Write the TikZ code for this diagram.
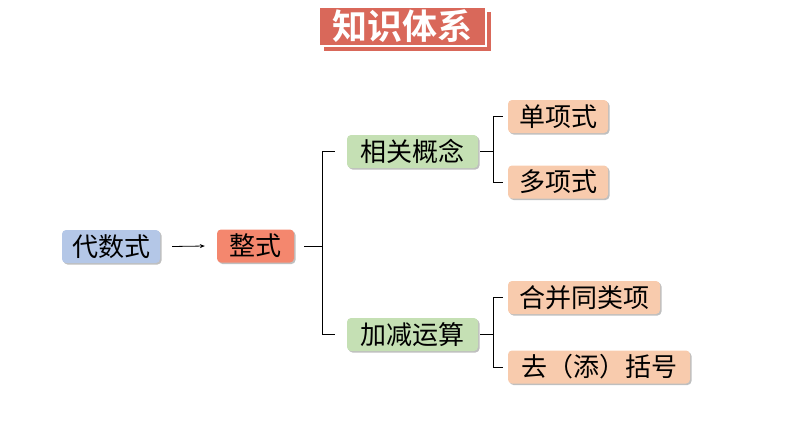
\documentclass[tikz,border=0pt]{standalone}
\usepackage{fontspec}
\setmainfont{Noto Sans CJK SC}
\newfontfamily\cjkb{Noto Sans CJK SC Bold}
\usetikzlibrary{shadows,arrows.meta}
\definecolor{titlered}{HTML}{D9685A}
\definecolor{blueb}{HTML}{B4C7E7}
\definecolor{redb}{HTML}{F4876E}
\definecolor{greenb}{HTML}{C5E0B4}
\definecolor{peachb}{HTML}{F8CBAD}
\tikzset{
  box/.style={rounded corners=4pt, minimum height=33pt, inner xsep=0pt, inner sep=0pt,
    font=\fontsize{26}{28}\selectfont, text=black,
    drop shadow={shadow xshift=1.5pt, shadow yshift=-1.5pt, opacity=0.25, fill=black}},
  brk/.style={line width=0.9pt, black},
}
\begin{document}
\begin{tikzpicture}[x=1pt,y=-1pt]
\useasboundingbox (0,0) rectangle (794,447);
% title
\fill[titlered] (324,12) rectangle (491,51);
\node[fill=titlered, draw=white, line width=1.5pt, anchor=north west,
  minimum width=167pt, minimum height=39pt, inner sep=0pt, text=white,
  font=\cjkb\fontsize{35}{36}\selectfont] (title) at (318,6) {知识体系};
% nodes
\node[box, fill=blueb, minimum width=98pt] (ds) at (111,246.5) {代数式};
\node[box, fill=redb, minimum width=77pt] (zs) at (255.5,246) {整式};
\node[box, fill=greenb, minimum width=131pt] (xg) at (412.5,151.5) {相关概念};
\node[box, fill=greenb, minimum width=131pt] (jj) at (412.5,334.5) {加减运算};
\node[box, fill=peachb, minimum width=100pt] (dx) at (558,116.5) {单项式};
\node[box, fill=peachb, minimum width=100pt] (dd) at (558,182) {多项式};
\node[box, fill=peachb, minimum width=152pt] (hb) at (584,297.5) {合并同类项};
\node[box, fill=peachb, minimum width=182pt] (qt) at (599,367) {去（添）括号};
% arrow
\draw[line width=0.8pt, -{Stealth[length=5pt,width=4pt]}] ([xshift=12pt]ds.east) -- ([xshift=-12pt]zs.east -| zs.west);
% brackets
\coordinate (b1) at (322,246);
\draw[brk] ([xshift=10pt]zs.east) -- (b1);
\draw[brk] ([xshift=-12pt]xg.west) -- (xg.west -| b1) -- (jj.west -| b1) -- ([xshift=-12pt]jj.west);
\coordinate (b2) at (493,151.5);
\draw[brk] ([xshift=2pt]xg.east) -- (b2);
\draw[brk] ([xshift=-5pt]dx.west) -- (dx.west -| b2) -- (dd.west -| b2) -- ([xshift=-5pt]dd.west);
\coordinate (b3) at (493,334.5);
\draw[brk] ([xshift=2pt]jj.east) -- (b3);
\draw[brk] ([xshift=-5pt]hb.west) -- (hb.west -| b3) -- (qt.west -| b3) -- ([xshift=-5pt]qt.west);
\end{tikzpicture}
\end{document}
